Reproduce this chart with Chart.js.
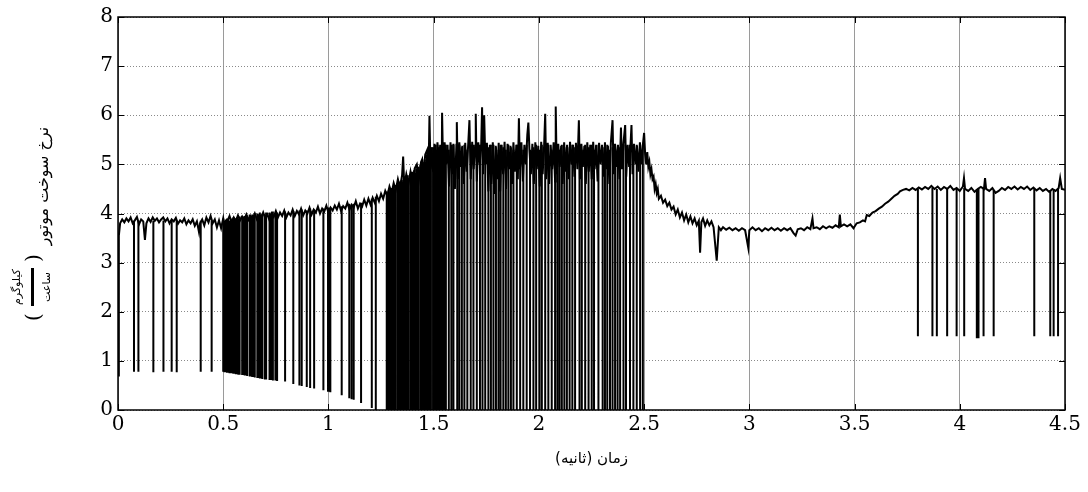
<!DOCTYPE html>
<html>
<head>
<meta charset="utf-8">
<script src="https://cdn.jsdelivr.net/npm/chart.js@4.4.1/dist/chart.umd.min.js"></script>
<style>
  html, body { margin: 0; padding: 0; background: #fff; }
  #wrap { width: 1088px; height: 492px; position: relative; }
</style>
</head>
<body>
<div id="wrap"><canvas id="fuelChart"></canvas></div>
<script>
// axis ticks
const xTicks = [0, 0.5, 1, 1.5, 2, 2.5, 3, 3.5, 4, 4.5];
const yTicks = [0, 1, 2, 3, 4, 5, 6, 7, 8];

// fuel rate trace [time s, rate]
const trace = [
    [0, 0.7], [0.004, 3.55], [0.01, 3.8], [0.02, 3.88], [0.03, 3.82], [0.04, 3.9], [0.05, 3.84], [0.06, 3.92],
    [0.07, 3.8], [0.08, 3.86], [0.09, 3.93], [0.1, 3.78], [0.11, 3.88], [0.12, 3.84], [0.128, 3.46], [0.135, 3.8],
    [0.145, 3.9], [0.155, 3.83], [0.165, 3.92], [0.175, 3.85], [0.185, 3.9], [0.195, 3.82], [0.205, 3.88],
    [0.215, 3.92], [0.225, 3.84], [0.235, 3.9], [0.245, 3.8], [0.255, 3.88], [0.265, 3.84], [0.275, 3.91],
    [0.285, 3.79], [0.295, 3.86], [0.305, 3.82], [0.315, 3.9], [0.325, 3.78], [0.335, 3.86], [0.345, 3.8],
    [0.355, 3.88], [0.365, 3.75], [0.375, 3.84], [0.385, 3.62], [0.39, 3.8], [0.4, 3.88], [0.41, 3.76],
    [0.42, 3.92], [0.43, 3.82], [0.44, 3.95], [0.45, 3.8], [0.46, 3.88], [0.47, 3.72], [0.48, 3.86], [0.49, 3.7],
    [0.5, 3.9], [0.51, 3.62], [0.52, 3.85], [0.53, 3.95], [0.54, 3.82], [0.55, 3.92], [0.56, 3.85], [0.57, 3.96],
    [0.58, 3.86], [0.59, 3.94], [0.6, 3.88], [0.61, 3.98], [0.62, 3.87], [0.63, 3.95], [0.64, 3.9], [0.65, 4.0],
    [0.66, 3.88], [0.67, 3.96], [0.68, 3.9], [0.69, 4.02], [0.7, 3.9], [0.71, 3.98], [0.72, 3.86], [0.73, 4.0],
    [0.74, 3.93], [0.75, 4.05], [0.76, 3.92], [0.77, 4.02], [0.78, 3.95], [0.79, 4.06], [0.8, 3.92], [0.81, 4.02],
    [0.82, 3.96], [0.83, 4.08], [0.84, 3.95], [0.85, 4.05], [0.86, 3.98], [0.87, 4.1], [0.88, 3.96], [0.89, 4.06],
    [0.9, 4.0], [0.91, 4.12], [0.92, 3.98], [0.93, 4.08], [0.94, 4.02], [0.95, 4.14], [0.96, 4.0], [0.97, 4.1],
    [0.98, 4.04], [0.99, 4.16], [1.0, 4.02], [1.01, 4.12], [1.02, 4.06], [1.03, 4.16], [1.04, 4.08], [1.05, 4.2],
    [1.06, 4.05], [1.07, 4.15], [1.08, 4.1], [1.09, 4.22], [1.1, 4.08], [1.11, 4.18], [1.12, 4.12], [1.13, 4.25],
    [1.14, 4.1], [1.15, 4.2], [1.16, 4.14], [1.17, 4.28], [1.18, 4.16], [1.19, 4.3], [1.2, 4.18], [1.21, 4.32],
    [1.22, 4.22], [1.23, 4.36], [1.24, 4.25], [1.25, 4.4], [1.26, 4.3], [1.27, 4.46], [1.28, 4.36], [1.29, 4.55],
    [1.3, 4.42], [1.31, 4.62], [1.32, 4.48], [1.33, 4.7], [1.34, 4.52], [1.35, 4.78], [1.355, 5.16], [1.36, 4.56],
    [1.37, 4.8], [1.38, 4.6], [1.39, 4.85], [1.4, 4.62], [1.41, 4.92], [1.42, 5.0], [1.43, 4.7], [1.44, 5.05],
    [1.445, 5.1], [1.45, 4.75], [1.46, 5.2], [1.47, 5.3], [1.475, 4.6], [1.48, 5.99], [1.485, 4.9],
    [1.49, 5.35], [1.497, 4.85], [1.504, 5.42], [1.511, 4.7], [1.518, 5.45], [1.525, 4.95], [1.532, 5.38],
    [1.538, 4.6], [1.54, 6.05], [1.545, 4.9], [1.552, 5.45], [1.559, 5.0], [1.566, 5.4], [1.573, 4.55],
    [1.58, 5.45], [1.587, 4.8], [1.594, 5.42], [1.601, 4.5], [1.608, 5.4], [1.61, 5.86], [1.615, 4.7],
    [1.622, 5.45], [1.629, 4.95], [1.636, 5.38], [1.643, 4.6], [1.65, 5.44], [1.657, 4.85], [1.664, 5.4],
    [1.67, 5.9], [1.676, 4.7], [1.683, 5.46], [1.69, 4.9], [1.697, 5.38], [1.7, 6.03], [1.705, 4.65],
    [1.712, 5.45], [1.719, 5.0], [1.726, 5.42], [1.73, 6.16], [1.735, 4.8], [1.74, 6.0], [1.746, 5.0],
    [1.753, 5.44], [1.76, 4.45], [1.767, 5.4], [1.774, 4.6], [1.781, 5.45], [1.788, 4.4], [1.795, 5.38],
    [1.802, 4.7], [1.809, 5.44], [1.816, 4.45], [1.823, 5.4], [1.83, 4.8], [1.837, 5.46], [1.844, 4.5],
    [1.851, 5.42], [1.858, 4.9], [1.865, 5.38], [1.872, 4.6], [1.879, 5.45], [1.886, 4.85], [1.893, 5.4],
    [1.9, 4.7], [1.905, 5.94], [1.91, 4.9], [1.917, 5.45], [1.924, 4.65], [1.931, 5.4], [1.938, 5.0],
    [1.945, 5.6], [1.95, 5.85], [1.955, 5.3], [1.962, 4.8], [1.969, 5.42], [1.976, 4.6], [1.983, 5.45],
    [1.99, 4.9], [1.997, 5.38], [2.004, 4.55], [2.011, 5.46], [2.018, 4.8], [2.025, 5.4], [2.03, 6.03],
    [2.035, 4.7], [2.042, 5.44], [2.049, 4.6], [2.056, 5.4], [2.063, 4.9], [2.07, 5.45], [2.077, 4.65],
    [2.08, 6.18], [2.085, 4.8], [2.092, 5.42], [2.099, 4.95], [2.106, 5.38], [2.113, 4.6], [2.12, 5.45],
    [2.127, 4.85], [2.134, 5.4], [2.141, 4.7], [2.148, 5.46], [2.155, 5.0], [2.162, 5.4], [2.169, 4.75],
    [2.176, 5.44], [2.183, 4.9], [2.19, 5.9], [2.195, 4.7], [2.202, 5.42], [2.209, 4.95], [2.216, 5.38],
    [2.223, 4.6], [2.23, 5.45], [2.237, 4.85], [2.244, 5.4], [2.251, 4.7], [2.258, 5.46], [2.265, 4.9],
    [2.272, 5.4], [2.279, 4.65], [2.286, 5.44], [2.293, 5.0], [2.3, 5.4], [2.307, 4.75], [2.314, 5.45],
    [2.321, 4.9], [2.328, 5.38], [2.335, 4.6], [2.342, 5.44], [2.35, 5.9], [2.355, 4.8], [2.362, 5.42],
    [2.369, 4.95], [2.376, 5.4], [2.383, 4.7], [2.39, 5.75], [2.395, 4.9], [2.402, 5.44], [2.41, 5.8],
    [2.415, 4.75], [2.422, 5.4], [2.429, 4.95], [2.436, 5.45], [2.44, 5.8], [2.445, 4.8], [2.452, 5.42],
    [2.459, 5.0], [2.466, 5.38], [2.473, 4.85], [2.48, 5.45], [2.487, 5.0], [2.494, 5.4], [2.5, 5.64],
    [2.505, 5.2], [2.51, 5.0], [2.515, 5.25], [2.52, 4.95], [2.525, 5.05], [2.53, 4.8], [2.535, 4.9],
    [2.54, 4.7], [2.545, 4.75], [2.55, 4.5], [2.555, 4.6], [2.56, 4.42], [2.565, 4.5], [2.57, 4.3],
    [2.58, 4.36], [2.59, 4.22], [2.6, 4.28], [2.61, 4.15], [2.62, 4.22], [2.63, 4.08], [2.64, 4.14], [2.65, 3.98],
    [2.66, 4.08], [2.67, 3.92], [2.68, 4.02], [2.69, 3.86], [2.7, 3.98], [2.71, 3.82], [2.72, 3.94], [2.73, 3.8],
    [2.74, 3.9], [2.75, 3.76], [2.76, 3.85], [2.766, 3.2], [2.772, 3.82], [2.78, 3.9], [2.79, 3.75], [2.8, 3.86],
    [2.81, 3.76], [2.82, 3.84], [2.83, 3.72], [2.845, 3.04], [2.855, 3.72], [2.865, 3.66], [2.875, 3.72],
    [2.89, 3.67], [2.905, 3.71], [2.92, 3.66], [2.935, 3.7], [2.95, 3.65], [2.965, 3.7], [2.98, 3.66],
    [2.995, 3.3], [3.0, 3.66], [3.015, 3.72], [3.03, 3.66], [3.045, 3.7], [3.06, 3.64], [3.075, 3.7],
    [3.09, 3.66], [3.105, 3.71], [3.12, 3.66], [3.135, 3.7], [3.15, 3.65], [3.165, 3.7], [3.18, 3.66],
    [3.195, 3.7], [3.21, 3.6], [3.22, 3.55], [3.23, 3.68], [3.245, 3.7], [3.26, 3.66], [3.275, 3.72],
    [3.29, 3.68], [3.3, 3.9], [3.305, 3.7], [3.32, 3.72], [3.335, 3.68], [3.35, 3.74], [3.365, 3.7],
    [3.38, 3.74], [3.395, 3.71], [3.41, 3.76], [3.425, 3.72], [3.43, 3.98], [3.435, 3.74], [3.45, 3.78],
    [3.465, 3.74], [3.48, 3.78], [3.495, 3.7], [3.51, 3.8], [3.525, 3.82], [3.54, 3.86], [3.55, 3.84],
    [3.558, 3.97], [3.57, 3.95], [3.585, 4.02], [3.6, 4.05], [3.615, 4.1], [3.63, 4.14], [3.645, 4.2],
    [3.66, 4.24], [3.675, 4.3], [3.69, 4.36], [3.705, 4.4], [3.716, 4.45], [3.73, 4.48], [3.745, 4.5],
    [3.76, 4.47], [3.775, 4.52], [3.79, 4.48], [3.805, 4.53], [3.82, 4.49], [3.835, 4.54], [3.85, 4.5],
    [3.865, 4.56], [3.88, 4.5], [3.895, 4.55], [3.91, 4.48], [3.925, 4.54], [3.94, 4.5], [3.955, 4.56],
    [3.97, 4.48], [3.985, 4.52], [4.0, 4.46], [4.015, 4.55], [4.02, 4.72], [4.025, 4.5], [4.04, 4.46],
    [4.055, 4.52], [4.07, 4.44], [4.085, 4.5], [4.1, 4.54], [4.115, 4.5], [4.12, 4.72], [4.125, 4.5],
    [4.14, 4.46], [4.155, 4.52], [4.17, 4.42], [4.185, 4.46], [4.2, 4.52], [4.215, 4.48], [4.23, 4.54],
    [4.245, 4.5], [4.26, 4.55], [4.275, 4.49], [4.29, 4.54], [4.305, 4.5], [4.32, 4.55], [4.335, 4.48],
    [4.35, 4.53], [4.365, 4.47], [4.38, 4.52], [4.395, 4.46], [4.41, 4.5], [4.425, 4.44], [4.44, 4.5],
    [4.455, 4.46], [4.47, 4.52], [4.477, 4.72], [4.485, 4.5], [4.5, 4.48]
];

// downward dropouts [time s, from rate, down to rate]
const drops = [
    [0.076, 3.85, 0.78], [0.097, 3.86, 0.78], [0.168, 3.85, 0.77], [0.216, 3.86, 0.78], [0.255, 3.85, 0.78],
    [0.279, 3.86, 0.77], [0.393, 3.85, 0.78], [0.445, 3.85, 0.78],
    [0.5, 3.9, 0.78], [0.506, 3.85, 0.77], [0.512, 3.88, 0.77], [0.518, 3.9, 0.76], [0.524, 3.88, 0.76],
    [0.53, 3.85, 0.75], [0.536, 3.9, 0.75], [0.542, 3.88, 0.75], [0.548, 3.92, 0.74], [0.554, 3.9, 0.74],
    [0.56, 3.88, 0.73], [0.566, 3.92, 0.73], [0.572, 3.9, 0.72], [0.578, 3.94, 0.72],
    [0.59, 3.95, 0.71], [0.596, 3.92, 0.71], [0.602, 3.95, 0.7], [0.608, 3.94, 0.7], [0.614, 3.96, 0.69],
    [0.626, 3.98, 0.68], [0.632, 3.95, 0.68], [0.638, 3.98, 0.67], [0.644, 3.96, 0.67],
    [0.65, 4.0, 0.66], [0.662, 4.0, 0.65], [0.668, 3.98, 0.65], [0.674, 4.02, 0.64],
    [0.68, 3.98, 0.64], [0.686, 4.0, 0.63], [0.698, 3.98, 0.62], [0.704, 4.02, 0.62],
    [0.72, 4.02, 0.61], [0.728, 4.0, 0.61], [0.736, 4.04, 0.6], [0.748, 4.0, 0.6], [0.756, 4.02, 0.59],
    [0.794, 4.04, 0.58], [0.833, 4.05, 0.53], [0.862, 4.06, 0.5], [0.873, 4.08, 0.49], [0.897, 4.06, 0.47],
    [0.913, 4.1, 0.45], [0.932, 4.08, 0.44], [0.976, 4.1, 0.4], [0.998, 4.12, 0.37], [1.004, 4.1, 0.37],
    [1.009, 4.12, 0.36], [1.063, 4.15, 0.3], [1.099, 4.2, 0.24], [1.11, 4.18, 0.22], [1.12, 4.2, 0.21],
    [1.155, 4.22, 0.14], [1.206, 4.3, 0.04], [1.225, 4.34, 0.0],
    [1.277, 4.45, 0], [1.282, 4.4, 0], [1.287, 4.48, 0], [1.292, 4.45, 0], [1.297, 4.52, 0], [1.302, 4.48, 0],
    [1.307, 4.55, 0], [1.312, 4.5, 0], [1.317, 4.58, 0], [1.327, 4.62, 0], [1.332, 4.58, 0],
    [1.337, 4.65, 0], [1.342, 4.6, 0], [1.347, 4.68, 0], [1.352, 4.65, 0], [1.357, 4.72, 0], [1.362, 4.65, 0],
    [1.367, 4.75, 0], [1.372, 4.7, 0], [1.377, 4.78, 0], [1.382, 4.72, 0], [1.392, 4.75, 0],
    [1.397, 4.85, 0], [1.402, 4.8, 0], [1.407, 4.88, 0], [1.412, 4.82, 0], [1.417, 4.92, 0], [1.422, 4.85, 0],
    [1.427, 4.95, 0], [1.437, 5.0, 0], [1.442, 4.95, 0], [1.447, 5.05, 0], [1.452, 5.0, 0],
    [1.457, 5.1, 0], [1.462, 5.05, 0], [1.467, 5.2, 0], [1.472, 5.1, 0], [1.477, 5.25, 0], [1.482, 5.2, 0],
    [1.487, 5.3, 0], [1.497, 5.35, 0], [1.502, 5.3, 0], [1.507, 5.4, 0], [1.512, 5.3, 0],
    [1.518, 5.4, 0], [1.524, 5.35, 0], [1.531, 5.4, 0], [1.538, 5.3, 0], [1.545, 5.4, 0], [1.552, 5.35, 0],
    [1.558, 5.4, 0], [1.572, 5.3, 0], [1.584, 5.4, 0], [1.594, 5.4, 0], [1.612, 5.3, 0], [1.622, 5.4, 0],
    [1.634, 5.35, 0], [1.646, 5.4, 0], [1.66, 5.3, 0], [1.676, 5.4, 0], [1.689, 5.4, 0], [1.705, 5.35, 0],
    [1.72, 5.4, 0], [1.732, 5.35, 0], [1.745, 5.3, 0], [1.76, 5.35, 0], [1.772, 5.4, 0], [1.784, 5.4, 0],
    [1.796, 5.35, 0], [1.808, 5.3, 0], [1.818, 5.4, 0], [1.831, 5.35, 0], [1.843, 5.3, 0], [1.855, 5.4, 0],
    [1.867, 5.35, 0], [1.879, 5.3, 0], [1.895, 5.4, 0], [1.911, 5.35, 0], [1.926, 5.3, 0], [1.942, 5.4, 0],
    [1.958, 5.3, 0], [1.974, 5.35, 0], [1.987, 5.4, 0], [2.003, 5.3, 0], [2.014, 5.4, 0], [2.03, 5.35, 0],
    [2.045, 5.4, 0], [2.061, 5.3, 0], [2.077, 5.4, 0], [2.088, 5.35, 0], [2.098, 5.3, 0], [2.109, 5.4, 0],
    [2.121, 5.35, 0], [2.133, 5.3, 0], [2.146, 5.35, 0], [2.159, 5.4, 0], [2.172, 5.35, 0], [2.193, 5.4, 0],
    [2.204, 5.3, 0], [2.22, 5.4, 0], [2.236, 5.35, 0], [2.251, 5.4, 0], [2.262, 5.3, 0], [2.283, 5.4, 0],
    [2.303, 5.35, 0], [2.314, 5.3, 0], [2.325, 5.4, 0], [2.338, 5.3, 0], [2.35, 5.35, 0], [2.362, 5.4, 0],
    [2.374, 5.3, 0], [2.386, 5.35, 0], [2.402, 5.4, 0], [2.414, 5.3, 0], [2.433, 5.4, 0], [2.449, 5.35, 0],
    [2.465, 5.4, 0], [2.481, 5.3, 0], [2.494, 5.4, 0],
    [3.801, 4.5, 1.5], [3.87, 4.52, 1.5], [3.891, 4.5, 1.5], [3.94, 4.52, 1.5], [3.985, 4.5, 1.5],
    [4.021, 4.52, 1.5], [4.081, 4.5, 1.46], [4.089, 4.5, 1.46], [4.113, 4.52, 1.5], [4.161, 4.48, 1.5],
    [4.354, 4.5, 1.5], [4.43, 4.48, 1.5], [4.446, 4.5, 1.5], [4.467, 4.52, 1.5]
];

const xTitle = 'زمان (ثانیه)';
const yTitle = 'نرخ سوخت موتور';
const yUnitTop = 'کیلوگرم';
const yUnitBottom = 'ساعت';

const traceData = trace.map(([x, y]) => ({ x, y }));
const dropData = drops.flatMap(([x, top, bottom]) => [{ x, y: top }, { x, y: bottom }, { x, y: null }]);

const serif = "'DejaVu Serif', 'Liberation Serif', serif";
const arabic = "'DejaVu Sans', sans-serif";

// frame, inner tick marks and the axis titles
const decorations = {
    id: 'decorations',
    afterDatasetsDraw(chart) {
        const { ctx, chartArea: a, scales } = chart;
        ctx.save();
        ctx.strokeStyle = '#000';
        ctx.lineWidth = 1;
        ctx.beginPath();
        xTicks.forEach(v => {
            const px = Math.round(scales.x.getPixelForValue(v)) + 0.5;
            ctx.moveTo(px, a.bottom); ctx.lineTo(px, a.bottom - 6);
            ctx.moveTo(px, a.top); ctx.lineTo(px, a.top + 6);
        });
        yTicks.forEach(v => {
            const py = Math.round(scales.y.getPixelForValue(v)) + 0.5;
            ctx.moveTo(a.left, py); ctx.lineTo(a.left + 6, py);
            ctx.moveTo(a.right, py); ctx.lineTo(a.right - 6, py);
        });
        ctx.stroke();
        ctx.lineWidth = 1.5;
        ctx.strokeRect(a.left, a.top, a.right - a.left, a.bottom - a.top);

        ctx.fillStyle = '#000';
        ctx.font = '15px ' + arabic;
        ctx.textAlign = 'center';
        ctx.textBaseline = 'middle';
        ctx.fillText(xTitle, (a.left + a.right) / 2, 459);

        ctx.translate(44, 220);
        ctx.rotate(-Math.PI / 2);
        ctx.font = '16px ' + arabic;
        ctx.fillText(yTitle, 34, 0);
        ctx.font = '20px ' + serif;
        ctx.fillText(')', -38, -9);
        ctx.fillText('(', -97, -9);
        ctx.font = '11px ' + arabic;
        ctx.fillText(yUnitTop, -67, -27);
        ctx.fillText(yUnitBottom, -67, 3);
        ctx.fillRect(-86, -13, 38, 3);
        ctx.restore();
    }
};

new Chart(document.getElementById('fuelChart'), {
    type: 'line',
    data: {
        datasets: [
            {
                label: 'dropouts',
                data: dropData,
                borderColor: '#000',
                borderWidth: 2,
                pointRadius: 0,
                spanGaps: false,
                tension: 0
            },
            {
                label: 'fuel rate',
                data: traceData,
                borderColor: '#000',
                borderWidth: 2,
                pointRadius: 0,
                tension: 0
            }
        ]
    },
    options: {
        responsive: true,
        maintainAspectRatio: false,
        animation: false,
        events: [],
        layout: { padding: { left: 0, right: 23, top: 17, bottom: 0 } },
        plugins: { legend: { display: false }, tooltip: { enabled: false } },
        scales: {
            x: {
                type: 'linear',
                min: 0,
                max: 4.5,
                afterBuildTicks: s => { s.ticks = xTicks.map(v => ({ value: v })); },
                afterFit: s => { s.height = 82; },
                grid: { color: '#9a9a9a', lineWidth: 1, drawTicks: false },
                border: { display: false },
                ticks: {
                    color: '#000', padding: 3, maxRotation: 0,
                    font: { family: serif, size: 20 },
                    callback: v => String(v)
                }
            },
            y: {
                min: 0,
                max: 8,
                afterBuildTicks: s => { s.ticks = yTicks.map(v => ({ value: v })); },
                afterFit: s => { s.width = 118; },
                grid: { color: '#8a8a8a', lineWidth: 1, drawTicks: false },
                border: { display: false, dash: [1, 2] },
                ticks: {
                    color: '#000', padding: 5,
                    font: { family: serif, size: 20 },
                    callback: v => String(v)
                }
            }
        }
    },
    plugins: [decorations]
});
</script>
</body>
</html>
